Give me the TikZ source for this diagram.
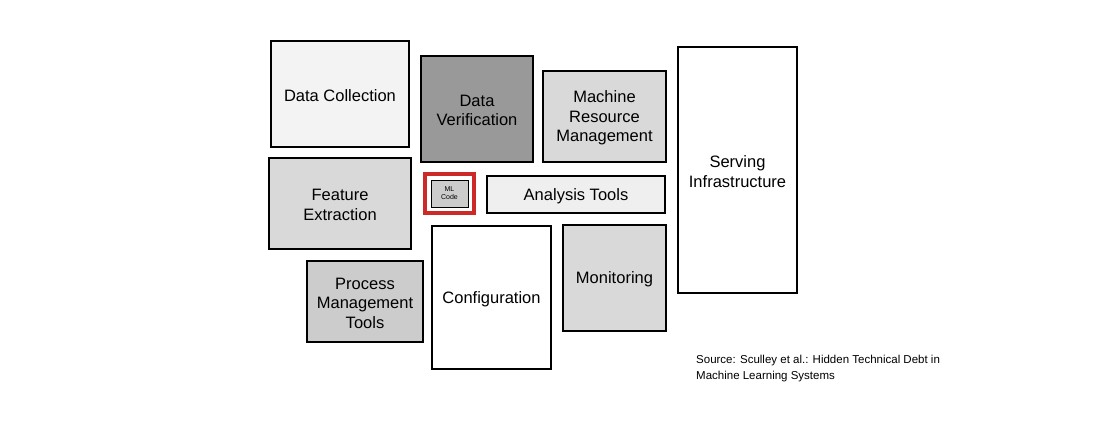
\documentclass[tikz,border=0pt]{standalone}
\usepackage{fontspec}
\setmainfont{Liberation Sans}
\begin{document}
\begin{tikzpicture}[x=1pt,y=-1pt,
 box/.style={draw=black,line width=1.4pt,align=center,font=\fontsize{16.5}{19.5}\selectfont},
 lbl/.style={align=center,font=\fontsize{16.5}{19.5}\selectfont,yshift=-1.5pt}]
\useasboundingbox (0,0) rectangle (1110,424);
\definecolor{c1}{HTML}{F3F3F3}
\definecolor{c2}{HTML}{999999}
\definecolor{c3}{HTML}{D9D9D9}
\definecolor{c4}{HTML}{EFEFEF}
\definecolor{c5}{HTML}{CCCCCC}
\definecolor{mlred}{HTML}{CC2929}
\draw[box,fill=c1] (271,41) rectangle (409,147) node[lbl,midway] (dc) {Data Collection};
\draw[box,fill=c2] (421,56) rectangle (533,162) node[lbl,midway] (dv) {Data\\Verification};
\draw[box,fill=c3] (543,71) rectangle (666,162) node[lbl,midway] (mr) {Machine\\Resource\\Management};
\draw[box,fill=white] (678,47) rectangle (797,293) node[lbl,midway] (si) {Serving\\Infrastructure};
\draw[box,fill=c3] (269,158) rectangle (411,249) node[lbl,midway] (fe) {Feature\\Extraction};
\draw[draw=mlred,line width=4pt] (425,174) rectangle (474,213);
\draw[box,line width=1pt,fill=c5] (431,180) rectangle (468,207) node[midway,align=center,font=\fontsize{7}{8}\selectfont] (ml) {ML\\Code};
\draw[box,fill=c4] (487,176) rectangle (665,213) node[lbl,midway] (at) {Analysis Tools};
\draw[box,fill=c5] (307,261) rectangle (423,342) node[lbl,midway] (pm) {Process\\Management\\Tools};
\draw[box,fill=white] (432,226) rectangle (551,369) node[lbl,midway] (cf) {Configuration};
\draw[box,fill=c3] (563,225) rectangle (666,331) node[lbl,midway] (mo) {Monitoring};
\node[anchor=north west,align=left,font=\fontsize{11.5}{16}\selectfont,inner sep=0] (src) at (696,355) {Source: Sculley et al.: Hidden Technical Debt in\\Machine Learning Systems};
\end{tikzpicture}
\end{document}
